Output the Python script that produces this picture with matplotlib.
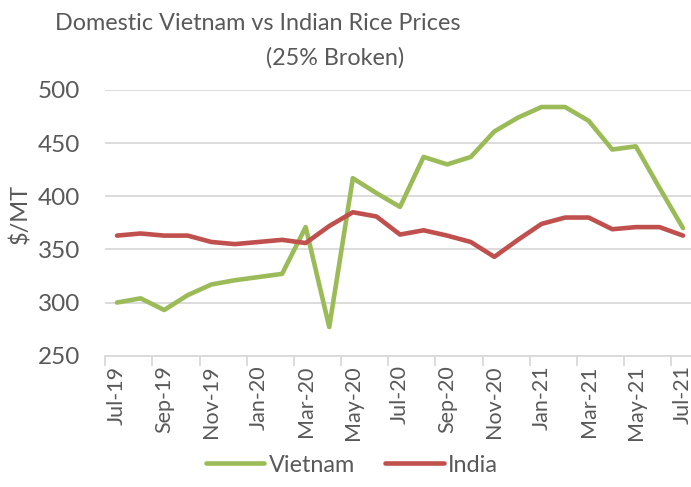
import matplotlib
matplotlib.use("Agg")
import matplotlib.pyplot as plt
import numpy as np

months = ["Jul-19", "Aug-19", "Sep-19", "Oct-19", "Nov-19", "Dec-19", "Jan-20", "Feb-20",
          "Mar-20", "Apr-20", "May-20", "Jun-20", "Jul-20", "Aug-20", "Sep-20", "Oct-20",
          "Nov-20", "Dec-20", "Jan-21", "Feb-21", "Mar-21", "Apr-21", "May-21", "Jun-21", "Jul-21"]
vietnam = [300, 304, 293, 307, 317, 321, 324, 327, 371, 277, 417, 403, 390, 437, 430, 437,
           461, 474, 484, 484, 471, 444, 447, 408, 370]
india = [363, 365, 363, 363, 357, 355, 357, 359, 356, 372, 385, 381, 364, 368, 363, 357,
         343, 359, 374, 380, 380, 369, 371, 371, 363]

text_col = "#595959"
grid_col = "#D9D9D9"
font = "Lato"
plt.rcParams['font.family'] = [font, 'DejaVu Sans']

fig = plt.figure(figsize=(6.91, 4.87), dpi=100)
W, H = 691, 487
left = 105.2 / W
right = 694.8 / W
top = 1 - 90 / H
bottom = 1 - 355.7 / H
ax = fig.add_axes([left, bottom, right - left, top - bottom])

x = np.arange(len(months))
ax.plot(x, vietnam, color="#9BBB59", lw=3.3, label="Vietnam", solid_capstyle="round", solid_joinstyle="round")
ax.plot(x, india, color="#C0504D", lw=3.3, label="India", solid_capstyle="round", solid_joinstyle="round")

ax.set_xlim(-0.5, len(months) - 0.5)
ax.set_ylim(250, 500)
ax.set_yticks([250, 300, 350, 400, 450, 500])
ax.yaxis.grid(True, color=grid_col, lw=1.3)
ax.set_axisbelow(True)
for s in ["top", "right", "left"]:
    ax.spines[s].set_visible(False)
ax.spines["bottom"].set_color(grid_col)
ax.spines["bottom"].set_linewidth(1.3)

ax.set_xticks(x[::2])
ax.set_xticklabels(months[::2], rotation=90, fontsize=15.5, color=text_col)
ax.set_xticks(np.arange(-0.5, len(months), 2), minor=True)
ax.tick_params(axis="x", which="major", length=0, pad=7)
ax.tick_params(axis="x", which="minor", length=7, color=grid_col, width=1.3, direction="out")
ax.tick_params(axis="y", length=0, pad=18, labelsize=17.5, labelcolor=text_col)

fig.text(20 / W, 1 - 214 / H, "$/MT", rotation=90, ha="center", va="center", fontsize=17, color=text_col)
fig.text(258 / W, 1 - 24 / H, "Domestic Vietnam vs Indian Rice Prices", ha="center", va="center",
         fontsize=16.8, color=text_col)
fig.text(335 / W, 1 - 58 / H, "(25% Broken)", ha="center", va="center", fontsize=16.8, color=text_col)

leg = fig.legend(loc="center", bbox_to_anchor=(352 / W, 1 - 465 / H), ncol=2, frameon=False,
                 fontsize=16.8, handlelength=2.5, handletextpad=0.2, columnspacing=1.3,
                 labelcolor=text_col)

fig.savefig("out.png", dpi=100)
